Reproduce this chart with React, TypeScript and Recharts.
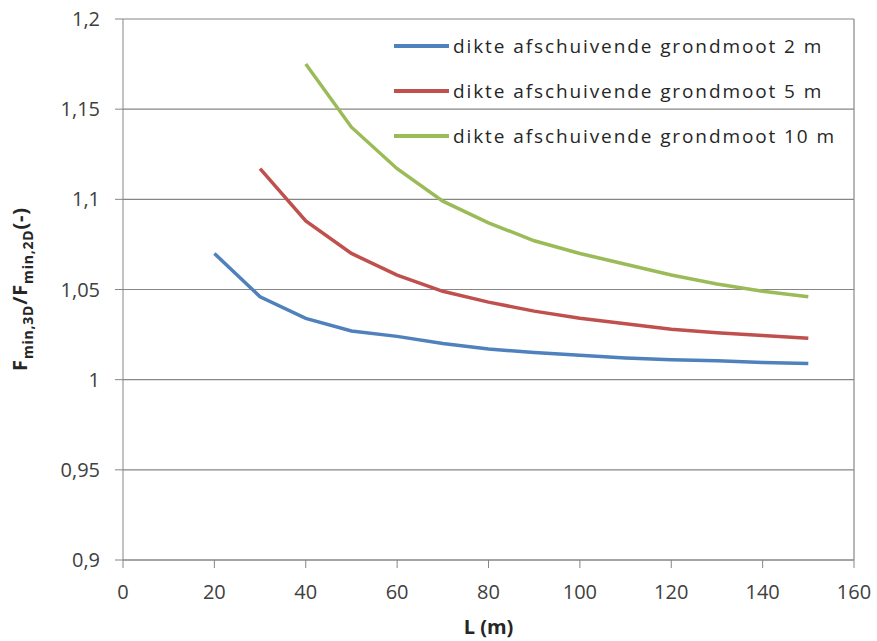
import React from "react";
import {
  CartesianGrid,
  Line,
  LineChart,
  ReferenceLine,
  XAxis,
  YAxis
} from "recharts";

const lengths = [20, 30, 40, 50, 60, 70, 80, 90, 100, 110, 120, 130, 140, 150];

// dikte 2 m starts at L = 20, 5 m at L = 30, 10 m at L = 40
const thick2 = [1.07, 1.046, 1.034, 1.027, 1.024, 1.02, 1.017, 1.015, 1.0135, 1.012, 1.011, 1.0105, 1.0095, 1.009];
const thick5 = [1.117, 1.088, 1.07, 1.058, 1.049, 1.043, 1.038, 1.034, 1.031, 1.028, 1.026, 1.0245, 1.023];
const thick10 = [1.175, 1.14, 1.117, 1.099, 1.087, 1.077, 1.07, 1.064, 1.058, 1.053, 1.049, 1.046];

const xTicks = [0, 20, 40, 60, 80, 100, 120, 140, 160];
const yTicks = [0.9, 0.95, 1, 1.05, 1.1, 1.15, 1.2];

const series = [
  { key: "d2", label: "dikte afschuivende grondmoot 2 m", color: "#4F81BD", values: thick2 },
  { key: "d5", label: "dikte afschuivende grondmoot 5 m", color: "#C0504D", values: thick5 },
  { key: "d10", label: "dikte afschuivende grondmoot 10 m", color: "#9BBB59", values: thick10 }
];

const data = lengths.map((L, i) => {
  const row: Record<string, number | null> = { L };
  series.forEach((s) => {
    const offset = lengths.length - s.values.length;
    row[s.key] = i >= offset ? s.values[i - offset] : null;
  });
  return row;
});

const FONT = "'Open Sans', 'DejaVu Sans', sans-serif";
const GRID = "#868686";
const comma = (v: number) => String(v).replace(".", ",");

function LegendBox() {
  return (
    <div style={{ position: "absolute", left: 394, top: 23, fontFamily: FONT }}>
      {series.map((s) => (
        <div
          key={s.key}
          style={{ display: "flex", alignItems: "center", height: 45, fontSize: 19, color: "#262626", letterSpacing: 1.9, whiteSpace: "nowrap" }}
        >
          <span style={{ display: "inline-block", width: 55, height: 4, background: s.color, marginRight: 4 }} />
          {s.label}
        </div>
      ))}
    </div>
  );
}

function YLabel() {
  return (
    <text
      transform="translate(27, 289) rotate(-90)"
      textAnchor="middle"
      fontFamily={FONT}
      fontWeight="bold"
      fontSize={20}
      letterSpacing={0.8}
      fill="#262626"
    >
      <tspan>F</tspan>
      <tspan fontSize={14} dy={6}>min,3D</tspan>
      <tspan dy={-6}>/F</tspan>
      <tspan fontSize={14} dy={6}>min,2D</tspan>
      <tspan dy={-6}>(-)</tspan>
    </text>
  );
}

export default function App() {
  return (
    <div style={{ position: "absolute", left: 0, top: 0, width: 877, height: 641, background: "#fff" }}>
      <LineChart width={877} height={641} data={data} margin={{ top: 19, right: 23, bottom: 51, left: 63 }}>
        <CartesianGrid vertical={false} stroke={GRID} strokeWidth={1.2} />
        <XAxis
          dataKey="L"
          type="number"
          domain={[0, 160]}
          ticks={xTicks}
          interval={0}
          height={30}
          stroke={GRID}
          tickSize={8}
          tickMargin={17}
          tick={{ fill: "#404040", fontSize: 20, fontFamily: FONT }}
          label={{ value: "L (m)", position: "bottom", offset: 30, fill: "#262626", fontSize: 20, fontWeight: "bold", fontFamily: FONT }}
        />
        <YAxis
          type="number"
          domain={[0.9, 1.2]}
          ticks={yTicks}
          interval={0}
          width={60}
          stroke={GRID}
          tickSize={8}
          tickMargin={15}
          tickFormatter={comma}
          tick={{ fill: "#404040", fontSize: 20, fontFamily: FONT }}
          label={<YLabel />}
        />
        <ReferenceLine x={160} stroke={GRID} strokeWidth={1.2} />
        {series.map((s) => (
          <Line
            key={s.key}
            dataKey={s.key}
            name={s.label}
            type="linear"
            stroke={s.color}
            strokeWidth={3.5}
            dot={false}
            activeDot={false}
            isAnimationActive={false}
          />
        ))}
      </LineChart>
      <LegendBox />
    </div>
  );
}
